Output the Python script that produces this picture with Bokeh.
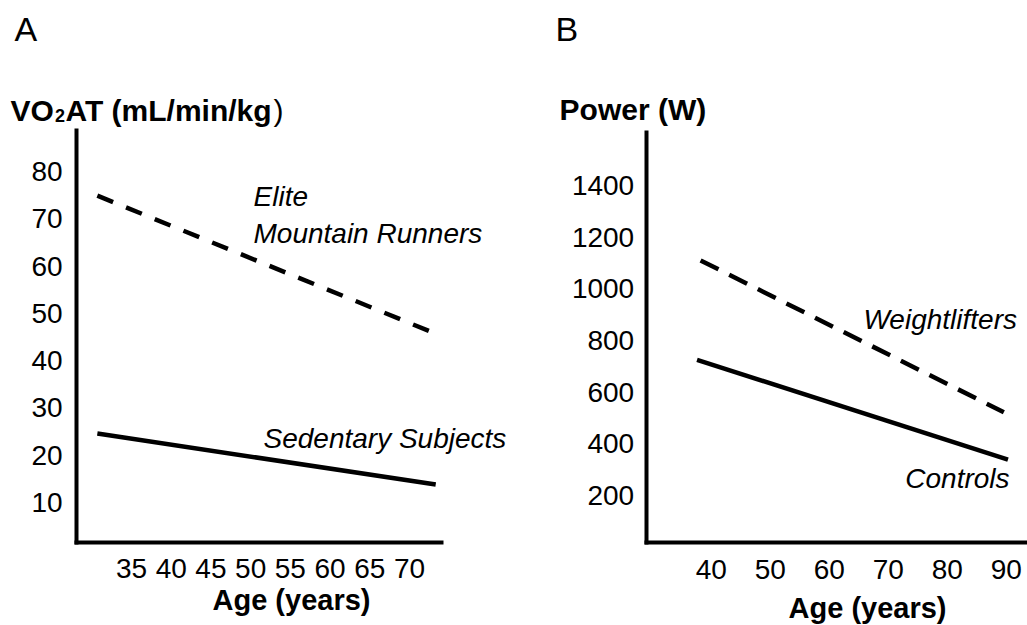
from bokeh.plotting import figure
from bokeh.models import Label, FixedTicker, LinearAxis, Range1d
from bokeh.embed import file_html
from bokeh.resources import INLINE

# ---------------- Panel A data ----------------
age_a_ticks = [35, 40, 45, 50, 55, 60, 65, 70]
vo2_ticks = [10, 20, 30, 40, 50, 60, 70, 80]
runners_age = [30.7, 73.3]
runners_vo2 = [74.9, 45.7]
sedentary_age = [30.7, 73.3]
sedentary_vo2 = [24.6, 13.8]

# ---------------- Panel B data ----------------
age_b_ticks = [40, 50, 60, 70, 80, 90]
power_ticks = [200, 400, 600, 800, 1000, 1200, 1400]
lifters_age = [38.2, 89.6]
lifters_power = [1110, 522]
controls_age = [37.6, 90.3]
controls_power = [725, 339]

FONT = "Liberation Sans"

p = figure(width=1027, height=625,
           x_range=Range1d(18.508, 147.80), y_range=Range1d(-16.00, 116.16),
           x_axis_location=None, y_axis_location=None, min_border=0,
           output_backend="svg", toolbar_location=None)
p.extra_x_ranges = {"xb": Range1d(-80.46, 93.61)}
p.extra_y_ranges = {"yb": Range1d(-303.5, 2116.2)}
p.grid.visible = False
p.outline_line_color = None
p.background_fill_color = "white"
p.border_fill_color = "white"


def make_axis(ticks, fixed, bounds, standoff, **kw):
    ax = LinearAxis(ticker=FixedTicker(ticks=ticks), fixed_location=fixed, bounds=bounds, **kw)
    ax.axis_line_width = 4
    ax.axis_line_color = "black"
    ax.axis_line_cap = "square"
    ax.major_tick_line_color = None
    ax.minor_tick_line_color = None
    ax.major_tick_in = 0
    ax.major_tick_out = 0
    ax.minor_tick_in = 0
    ax.minor_tick_out = 0
    ax.major_label_text_font = FONT
    ax.major_label_text_font_size = "28px"
    ax.major_label_text_color = "black"
    ax.major_label_standoff = standoff
    return ax


# Panel A axes
p.add_layout(make_axis(vo2_ticks, 28.08, (1.54, 88.67), 14), "left")
p.add_layout(make_axis(age_a_ticks, 1.54, (28.08, 74.03), 16), "below")
# Panel B axes
p.add_layout(make_axis(power_ticks, 28.98, (18.0, 1605.0), 12,
                       x_range_name="xb", y_range_name="yb"), "left")
p.add_layout(make_axis(age_b_ticks, 18.0, (28.98, 93.61), 18,
                       x_range_name="xb", y_range_name="yb"), "below")

# Panel A lines
p.line(runners_age, runners_vo2, line_width=4.5, line_color="black", line_dash="17 14")
p.line(sedentary_age, sedentary_vo2, line_width=4.5, line_color="black")
# Panel B lines
p.line(lifters_age, lifters_power, line_width=4.5, line_color="black", line_dash="20 12",
       x_range_name="xb", y_range_name="yb")
p.line(controls_age, controls_power, line_width=4.5, line_color="black",
       x_range_name="xb", y_range_name="yb")


def lab(x, y, text, size="28px", style_="normal", align="left", b=False):
    kw = dict(x_range_name="xb", y_range_name="yb") if b else {}
    p.add_layout(Label(x=x, y=y, text=text, text_font=FONT, text_font_size=size,
                       text_font_style=style_, text_color="black",
                       text_align=align, text_baseline="alphabetic", **kw))


# Panel A texts
lab(20.27, 110.2, "A", size="34px")
lab(19.77, 92.9, "VO", size="30px", style_="bold")
lab(25.37, 91.85, "2", size="18px", style_="bold")
lab(26.69, 92.9, "AT (mL/min/kg", size="30px", style_="bold")
lab(52.88, 92.9, ")", size="30px")
lab(50.36, 74.7, "Elite", style_="italic")
lab(50.36, 66.9, "Mountain Runners", style_="italic")
lab(51.62, 23.55, "Sedentary Subjects", style_="italic")
lab(55.14, -10.7, "Age (years)", size="29px", style_="bold", align="center")

# Panel B texts
lab(13.6, 2004, "B", size="34px", b=True)
lab(14.3, 1694, "Power (W)", size="30px", style_="bold", b=True)
lab(65.8, 881, "Weightlifters", style_="italic", b=True)
lab(72.9, 266, "Controls", style_="italic", b=True)
lab(66.5, -237, "Age (years)", size="29px", style_="bold", align="center", b=True)

open("out.html", "w").write(file_html(p, INLINE))
